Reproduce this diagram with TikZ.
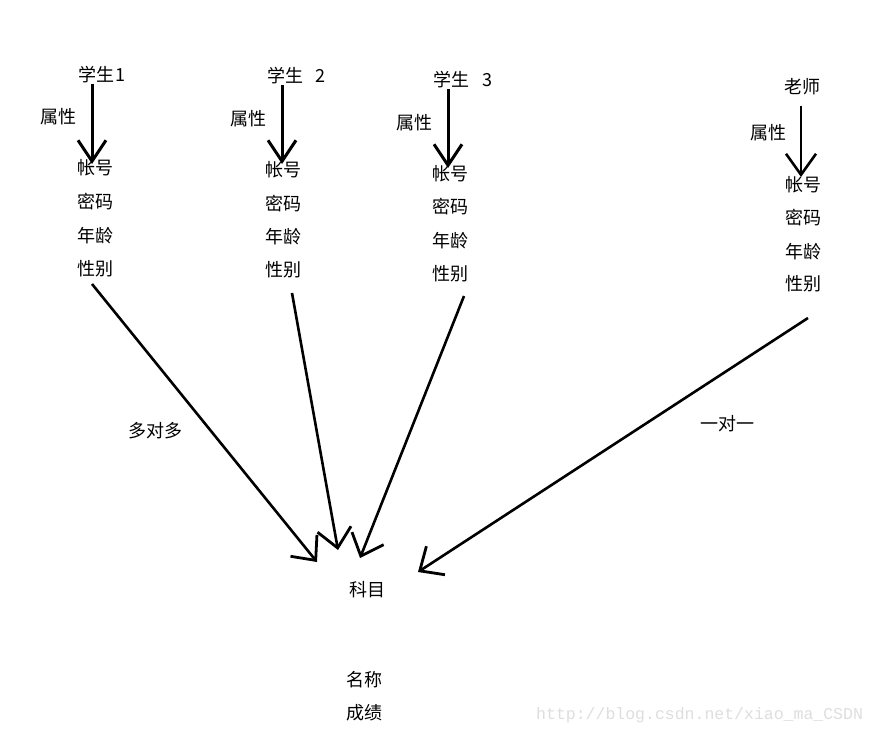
\documentclass[tikz,border=0pt]{standalone}
\usepackage{fontspec}
\setmainfont{Noto Sans CJK SC}
\newfontfamily\wmfont{Liberation Mono}
\usetikzlibrary{arrows.meta}
\definecolor{wmgray}{RGB}{222,222,222}
\tikzset{
  lbl/.style={anchor=west, inner sep=0pt, font=\fontsize{18}{20}\selectfont},
  varrow/.style={line width=3pt, -{Straight Barb[length=21pt,width=28pt,line width=3pt]}},
  tarrow/.style={line width=2.2pt, -{Straight Barb[length=21pt,width=30pt,line width=2.6pt]}},
  bigarrow/.style={line width=2.6pt, -{Straight Barb[length=19pt,width=34pt,line width=2.8pt]}},
}
\begin{document}
\begin{tikzpicture}[x=1pt,y=-1pt]
\useasboundingbox (0,0) rectangle (876,735);
\fill[white] (0,0) rectangle (876,735);

% student 1
\node[lbl] (s1) at (78,75) {学生\hspace{1pt}1};
\node[lbl] (p1) at (40,117) {属性};
\node[lbl] (a1) at (77,168) {帐号};
\node[lbl] (b1) at (77,202) {密码};
\node[lbl] (c1) at (77,236) {年龄};
\node[lbl] (d1) at (77,269) {性别};
% student 2
\node[lbl] (s2) at (267,76) {学生\hspace{12pt}2};
\node[lbl] (p2) at (230,119) {属性};
\node[lbl] (a2) at (265,170) {帐号};
\node[lbl] (b2) at (265,204) {密码};
\node[lbl] (c2) at (265,237) {年龄};
\node[lbl] (d2) at (265,270) {性别};
% student 3
\node[lbl] (s3) at (433,80) {学生\hspace{13pt}3};
\node[lbl] (p3) at (396,123) {属性};
\node[lbl] (a3) at (432,174) {帐号};
\node[lbl] (b3) at (432,207) {密码};
\node[lbl] (c3) at (432,241) {年龄};
\node[lbl] (d3) at (432,274) {性别};
% teacher
\node[lbl] (t) at (784,87) {老师};
\node[lbl] (p4) at (750,133) {属性};
\node[lbl] (a4) at (785,185) {帐号};
\node[lbl] (b4) at (785,218) {密码};
\node[lbl] (c4) at (785,252) {年龄};
\node[lbl] (d4) at (785,284) {性别};
% subject
\node[lbl] (subj) at (349,590) {科目};
\node[lbl] (name) at (346,680) {名称};
\node[lbl] (score) at (346,713) {成绩};
% relation labels
\node[lbl] (m2m) at (128,431) {多对多};
\node[lbl] (o2o) at (700,424) {一对一};
% watermark
\node[anchor=west, inner sep=0pt, text=wmgray, font=\wmfont\fontsize{16.5}{18}\selectfont] (wm) at (536,715) {http://blog.csdn.net/xiao\_ma\_CSDN};

% connector endpoints
\coordinate (v1s) at (92,84);   \coordinate (v1e) at (92,164);
\coordinate (v2s) at (282,85);  \coordinate (v2e) at (282,164);
\coordinate (v3s) at (448,89);  \coordinate (v3e) at (448,168);
\coordinate (v4s) at (801,106); \coordinate (v4e) at (801,177);
\coordinate (l1s) at (92,284);  \coordinate (l1e) at (317,562);
\coordinate (l2s) at (292,293); \coordinate (l2e) at (338,550);
\coordinate (l3s) at (464,296); \coordinate (l3e) at (360,558);
\coordinate (l4s) at (808,318); \coordinate (l4e) at (418,572);

\draw[varrow] (v1s) -- (v1e);
\draw[varrow] (v2s) -- (v2e);
\draw[varrow] (v3s) -- (v3e);
\draw[tarrow] (v4s) -- (v4e);
\draw[bigarrow] (l1s) -- (l1e);
\draw[bigarrow] (l2s) -- (l2e);
\draw[bigarrow] (l3s) -- (l3e);
\draw[bigarrow] (l4s) -- (l4e);
\end{tikzpicture}
\end{document}
